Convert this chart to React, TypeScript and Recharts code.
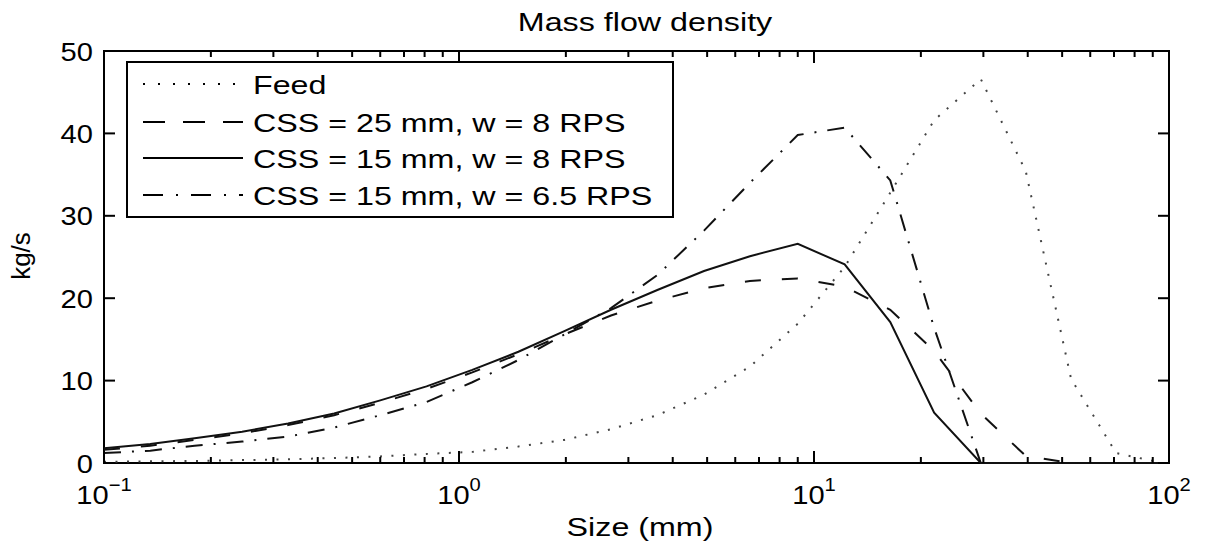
import { LineChart, Line, XAxis, YAxis, Legend, ReferenceArea } from "recharts"

const FONT = '"Liberation Sans", Arial, Helvetica, sans-serif'

// size classes (mm)
const sizes = [0.1, 0.135, 0.18, 0.245, 0.33, 0.445, 0.6, 0.81, 1.09, 1.47, 1.98, 2.68, 3.62, 4.9, 6.6, 9.0, 12.2, 16.4, 21.8, 29.5, 39.5, 53, 71, 96]

// kg/s per size class
const feed = [0.15, 0.2, 0.25, 0.35, 0.45, 0.6, 0.8, 1.1, 1.35, 2.0, 2.8, 4.1, 5.8, 8.3, 11.7, 16.9, 23.8, 32.8, 41.6, 46.6, 35.4, 10.2, 1.2, 0]
const css25w8 = [1.6, 2.1, 2.8, 3.6, 4.6, 5.8, 7.3, 9.0, 11.0, 13.2, 15.6, 17.9, 19.7, 21.2, 22.1, 22.4, 21.4, 18.6, 13.6, 6.0, 0.85, 0, 0, 0]
const css15w8 = [1.8, 2.3, 3.0, 3.8, 4.8, 6.0, 7.6, 9.3, 11.3, 13.5, 16.0, 18.6, 21.0, 23.3, 25.1, 26.6, 24.1, 17.1, 6.1, 0, 0, 0, 0, 0]
const css15w65 = [1.2, 1.5, 2.1, 2.6, 3.2, 4.3, 5.8, 7.4, 9.8, 12.5, 15.6, 18.8, 22.8, 28.2, 34.0, 39.8, 40.7, 34.3, 16.4, 0, 0, 0, 0, 0]

const xTicks = [0.1, 0.2, 0.3, 0.4, 0.5, 0.6, 0.7, 0.8, 0.9, 1, 2, 3, 4, 5, 6, 7, 8, 9, 10, 20, 30, 40, 50, 60, 70, 80, 90, 100]
const decadeExp: Record<string, string> = { "0.1": "\u22121", "1": "0", "10": "1", "100": "2" }
const yTicks = [0, 10, 20, 30, 40, 50]

const series = [
  { key: "feed", name: "Feed", stroke: "#444", dash: "2 9.5", legendDash: "2 13" },
  { key: "css25w8", name: "CSS = 25 mm, w = 8 RPS", stroke: "#111", dash: "16 21", legendDash: "22 18" },
  { key: "css15w8", name: "CSS = 15 mm, w = 8 RPS", stroke: "#111", dash: undefined, legendDash: undefined },
  { key: "css15w65", name: "CSS = 15 mm, w = 6.5 RPS", stroke: "#111", dash: "17 11 2 11", legendDash: "20 13 2 13" },
]

const rows = sizes.map((size, i) => ({
  size,
  feed: feed[i],
  css25w8: css25w8[i],
  css15w8: css15w8[i],
  css15w65: css15w65[i],
}))

// plot box
const PLOT = { left: 104, top: 51, right: 1169, bottom: 463 }
const STRETCH = 1.24

// eslint-disable-next-line @typescript-eslint/no-explicit-any
function renderXTick(props: any) {
  const { x, payload } = props
  const exp = decadeExp[String(payload.value)]
  const len = exp ? 12 : 6
  return (
    <g key={`xt-${payload.value}`}>
      <line x1={x} y1={PLOT.bottom} x2={x} y2={PLOT.bottom - len} stroke="#000" strokeWidth={2} />
      <line x1={x} y1={PLOT.top} x2={x} y2={PLOT.top + len} stroke="#000" strokeWidth={2} />
      {exp && (
        <g transform={`translate(${x} 504) scale(1.12 1)`}>
          <text x={0} y={0} textAnchor="middle" fontFamily={FONT} fontSize={26} fill="#000">
            10
            <tspan dy={-13} fontSize={18}>{exp}</tspan>
          </text>
        </g>
      )}
    </g>
  )
}

// eslint-disable-next-line @typescript-eslint/no-explicit-any
function renderYTick(props: any) {
  const { y, payload } = props
  return (
    <g key={`yt-${payload.value}`}>
      <line x1={PLOT.left} y1={y} x2={PLOT.left + 11} y2={y} stroke="#000" strokeWidth={2} />
      <line x1={PLOT.right} y1={y} x2={PLOT.right - 11} y2={y} stroke="#000" strokeWidth={2} />
      <g transform={`translate(93 ${y + 9.5}) scale(1.12 1)`}>
        <text x={0} y={0} textAnchor="end" fontFamily={FONT} fontSize={26} fill="#000">
          {payload.value}
        </text>
      </g>
    </g>
  )
}

function LegendBox() {
  const rowY = [23, 61, 97, 134]
  return (
    <svg width={548} height={157} style={{ display: "block" }}>
      <rect x={1} y={1} width={546} height={155} fill="#fff" stroke="#000" strokeWidth={2} />
      {series.map((s, i) => (
        <g key={s.key}>
          <line x1={17} x2={117} y1={rowY[i]} y2={rowY[i]} stroke="#000" strokeWidth={2} strokeDasharray={s.legendDash} />
          <g transform={`translate(127 ${rowY[i] + 10}) scale(${STRETCH} 1)`}>
            <text x={0} y={0} fontFamily={FONT} fontSize={26} fill="#000">{s.name}</text>
          </g>
        </g>
      ))}
    </svg>
  )
}

export default function App() {
  return (
    <div style={{ position: "absolute", left: 0, top: 0, width: 1209, height: 542, background: "#fff", fontFamily: FONT }}>
      <div
        style={{
          position: "absolute",
          left: 645,
          top: 9,
          fontSize: 26,
          lineHeight: "26px",
          whiteSpace: "nowrap",
          color: "#000",
          transform: `translateX(-50%) scaleX(${STRETCH})`,
        }}
      >
        Mass flow density
      </div>
      <LineChart width={1209} height={542} data={rows} margin={{ top: 51, right: 40, bottom: 0, left: 0 }}>
        <XAxis
          dataKey="size"
          type="number"
          scale="log"
          domain={[0.1, 100]}
          allowDataOverflow
          ticks={xTicks}
          interval={0}
          tick={renderXTick}
          tickLine={false}
          axisLine={false}
          tickSize={0}
          tickMargin={0}
          height={79}
          label={{
            content: () => (
              <g transform={`translate(640 536) scale(${STRETCH} 1)`}>
                <text x={0} y={0} textAnchor="middle" fontFamily={FONT} fontSize={26} fill="#000">
                  Size (mm)
                </text>
              </g>
            ),
          }}
        />
        <YAxis
          type="number"
          domain={[0, 50]}
          ticks={yTicks}
          interval={0}
          tick={renderYTick}
          tickLine={false}
          axisLine={false}
          tickSize={0}
          tickMargin={0}
          width={104}
          label={{
            content: () => (
              <g transform="translate(30 256) rotate(-90)">
                <text x={0} y={0} textAnchor="middle" fontFamily={FONT} fontSize={26} fill="#000">
                  kg/s
                </text>
              </g>
            ),
          }}
        />
        <ReferenceArea x1={0.1} x2={100} y1={0} y2={50} fill="none" stroke="#000" strokeWidth={2} ifOverflow="visible" />
        {series.map((s) => (
          <Line
            key={s.key}
            dataKey={s.key}
            name={s.name}
            type="linear"
            stroke={s.stroke}
            strokeWidth={2}
            strokeDasharray={s.dash}
            dot={false}
            activeDot={false}
            isAnimationActive={false}
          />
        ))}
        <Legend
          layout="horizontal"
          align="center"
          verticalAlign="middle"
          content={() => <LegendBox />}
          wrapperStyle={{ left: 126, top: 61, width: 548, height: 157, margin: 0, padding: 0 }}
        />
      </LineChart>
    </div>
  )
}
